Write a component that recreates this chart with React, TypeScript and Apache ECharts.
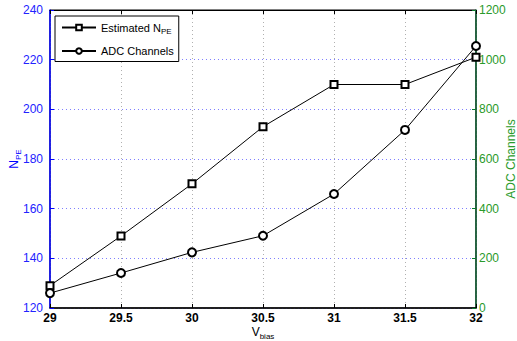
import React, { useEffect, useRef } from "react";
import * as echarts from "echarts";

const vbias = [29, 29.5, 30, 30.5, 31, 31.5, 32];
const npe = [129, 149, 170, 193, 210, 210, 221];
const adc = [60, 141, 224, 291, 459, 717, 1055];

const FONT = "Liberation Sans";

export default function App() {
  const ref = useRef<HTMLDivElement>(null);
  useEffect(() => {
    if (!ref.current) return;
    const chart = echarts.init(ref.current, null, { renderer: "svg" });
    chart.setOption({
      animation: false,
      backgroundColor: "#fff",
      textStyle: { fontFamily: FONT },
      grid: {
        left: 50,
        right: 41,
        top: 10,
        bottom: 33,
        show: true,
        borderColor: "#000",
        borderWidth: 1,
        backgroundColor: "#fff",
        containLabel: false,
        outerBoundsMode: "none",
      },
      legend: {
        orient: "vertical",
        left: 55,
        top: 16,
        backgroundColor: "#fff",
        borderColor: "#000",
        borderWidth: 1,
        borderRadius: 0,
        padding: [6, 5, 5, 6],
        itemWidth: 34,
        itemHeight: 7,
        itemGap: 10,
        textStyle: {
          fontFamily: FONT,
          fontSize: 11,
          color: "#000",
          rich: {
            s: { fontSize: 8, padding: [8, 0, 0, 0], fontFamily: FONT, color: "#000" },
          },
        },
        formatter: (name: string) =>
          name === "Estimated NPE" ? "Estimated N{s|PE}" : name,
        data: ["Estimated NPE", "ADC Channels"],
      },
      xAxis: [
        {
          type: "value",
          min: 29,
          max: 32,
          interval: 0.5,
          name: "{a|V}{s|bias}",
          nameLocation: "middle",
          nameGap: 15,
          nameMoveOverlap: false,
          nameTextStyle: {
            verticalAlign: "top",
            rich: {
              a: { fontSize: 12, color: "#000", fontFamily: FONT },
              s: { fontSize: 8, color: "#000", padding: [9, 0, 0, 0], fontFamily: FONT },
            },
          },
          axisLine: { lineStyle: { color: "#000", width: 1.5 } },
          axisTick: { inside: true, length: 4, lineStyle: { color: "#000" } },
          axisLabel: { color: "#000", fontSize: 12, fontWeight: "bold", margin: 4 },
          splitLine: { show: true, lineStyle: { color: "#b0b0b0", type: [1, 3] } },
        },
        {
          type: "value",
          position: "top",
          min: 29,
          max: 32,
          interval: 0.5,
          axisLine: { show: true, lineStyle: { color: "#000" } },
          axisTick: { inside: true, length: 4, lineStyle: { color: "#000" } },
          axisLabel: { show: false },
          splitLine: { show: false },
        },
      ],
      yAxis: [
        {
          type: "value",
          min: 120,
          max: 240,
          interval: 20,
          position: "left",
          name: "{a|N}{s|PE}",
          nameLocation: "middle",
          nameGap: 28,
          nameMoveOverlap: false,
          nameTextStyle: {
            rich: {
              a: { fontSize: 12, color: "#0000ff", fontFamily: FONT },
              s: { fontSize: 8, color: "#0000ff", padding: [9, 0, 0, 0], fontFamily: FONT },
            },
          },
          axisLine: { show: true, lineStyle: { color: "#0000ff", width: 1.5 } },
          axisTick: { show: true, inside: true, length: 4, lineStyle: { color: "#0000ff" } },
          axisLabel: { color: "#2222ff", fontSize: 12, margin: 7 },
          splitLine: { show: true, lineStyle: { color: "#7f7fff", type: [1, 3] } },
        },
        {
          type: "value",
          min: 0,
          max: 1200,
          interval: 200,
          position: "right",
          name: "ADC Channels",
          nameLocation: "middle",
          nameGap: 29,
          nameMoveOverlap: false,
          nameTextStyle: { color: "#2a9a2a", fontSize: 12, fontFamily: FONT },
          axisLine: { show: true, lineStyle: { color: "#0a5a2e", width: 1.5 } },
          axisTick: { show: true, inside: true, length: 4, lineStyle: { color: "#0a7a2e" } },
          axisLabel: { color: "#2a9a2a", fontSize: 12, margin: 3, formatter: (v: number) => String(v) },
          splitLine: { show: false },
        },
      ],
      series: [
        {
          name: "Estimated NPE",
          type: "line",
          xAxisIndex: 0,
          yAxisIndex: 0,
          data: vbias.map((v, i) => [v, npe[i]]),
          symbol: "emptyRect",
          symbolSize: 7,
          color: "#000",
          itemStyle: { color: "#000", borderColor: "#000", borderWidth: 0.8 },
          lineStyle: { color: "#000", width: 1 },
        },
        {
          name: "ADC Channels",
          type: "line",
          xAxisIndex: 0,
          yAxisIndex: 1,
          data: vbias.map((v, i) => [v, adc[i]]),
          symbol: "emptyCircle",
          symbolSize: 8,
          color: "#000",
          itemStyle: { color: "#000", borderColor: "#000", borderWidth: 0.8 },
          lineStyle: { color: "#000", width: 1 },
        },
      ],
    });
    return () => chart.dispose();
  }, []);
  return <div ref={ref} style={{ width: 517, height: 341, position: "absolute", left: 0, top: 0 }} />;
}
